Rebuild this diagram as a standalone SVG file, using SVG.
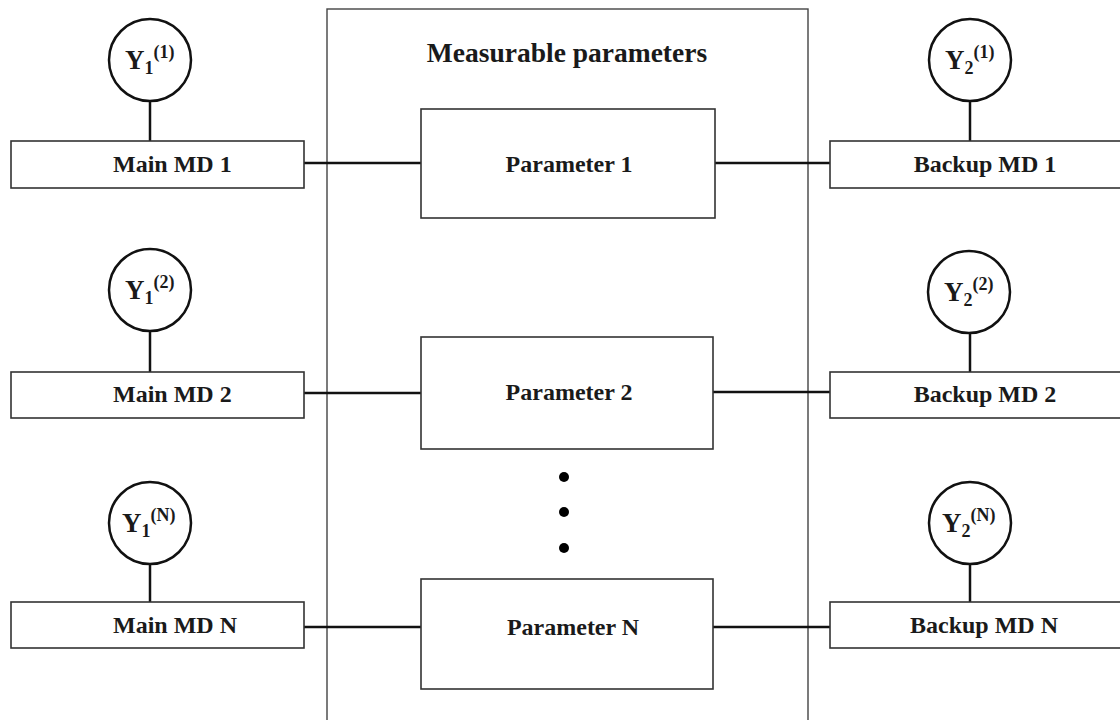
<svg xmlns="http://www.w3.org/2000/svg" width="1120" height="720" viewBox="0 0 1120 720">
<style>
  .box { fill: #fff; stroke: #333; stroke-width: 1.6; }
  .outer { fill: none; stroke: #444; stroke-width: 1.4; }
  .circ { fill: #fff; stroke: #111; stroke-width: 2.5; }
  .conn { stroke: #111; stroke-width: 2.5; fill: none; }
  .lbl { font-family: "Liberation Serif", "Times New Roman", serif; font-weight: bold; font-size: 24px; fill: #1a1a1a; }
  .mid { text-anchor: middle; }
  .title { font-size: 27.5px; }
  .y { font-size: 27px; }
  .sm { font-size: 18px; }
  .dot { fill: #000; }
</style>
<rect width="1120" height="720" fill="#fff"/>

<g id="measurable-parameters">
  <rect class="outer" x="327" y="9" width="481" height="730"/>
  <text class="lbl title mid" x="567" y="62">Measurable parameters</text>
</g>

<g id="connectors">
  <line class="conn" x1="150" y1="101" x2="150" y2="141"/>
  <line class="conn" x1="150" y1="331" x2="150" y2="372"/>
  <line class="conn" x1="150" y1="564" x2="150" y2="602"/>
  <line class="conn" x1="970" y1="101" x2="970" y2="141"/>
  <line class="conn" x1="970" y1="333" x2="970" y2="372"/>
  <line class="conn" x1="970" y1="564" x2="970" y2="602"/>
  <line class="conn" x1="304" y1="163" x2="421" y2="163"/>
  <line class="conn" x1="715" y1="163" x2="830" y2="163"/>
  <line class="conn" x1="304" y1="393" x2="421" y2="393"/>
  <line class="conn" x1="713" y1="392" x2="830" y2="392"/>
  <line class="conn" x1="304" y1="627" x2="421" y2="627"/>
  <line class="conn" x1="713" y1="627" x2="830" y2="627"/>
</g>

<g id="param-1">
  <rect class="box" x="421" y="109" width="294" height="109"/>
  <text class="lbl mid" x="569" y="172">Parameter 1</text>
</g>
<g id="param-2">
  <rect class="box" x="421" y="337" width="292" height="112"/>
  <text class="lbl mid" x="569" y="400">Parameter 2</text>
</g>
<g id="ellipsis">
  <circle class="dot" cx="564" cy="477" r="5"/>
  <circle class="dot" cx="564" cy="512" r="5"/>
  <circle class="dot" cx="564" cy="548" r="5"/>
</g>
<g id="param-n">
  <rect class="box" x="421" y="579" width="292" height="110"/>
  <text class="lbl mid" x="573" y="635">Parameter N</text>
</g>

<g id="main-md-1">
  <rect class="box" x="11" y="141" width="293" height="47"/>
  <text class="lbl" x="113" y="172">Main MD 1</text>
</g>
<g id="main-md-2">
  <rect class="box" x="11" y="372" width="293" height="46"/>
  <text class="lbl" x="113" y="402">Main MD 2</text>
</g>
<g id="main-md-n">
  <rect class="box" x="11" y="602" width="293" height="46"/>
  <text class="lbl" x="113" y="633">Main MD N</text>
</g>

<g id="backup-md-1">
  <rect class="box" x="830" y="141" width="300" height="47"/>
  <text class="lbl mid" x="985" y="172">Backup MD 1</text>
</g>
<g id="backup-md-2">
  <rect class="box" x="830" y="372" width="300" height="46"/>
  <text class="lbl mid" x="985" y="402">Backup MD 2</text>
</g>
<g id="backup-md-n">
  <rect class="box" x="830" y="602" width="300" height="46"/>
  <text class="lbl mid" x="984" y="633">Backup MD N</text>
</g>

<g id="y1-1">
  <circle class="circ" cx="150" cy="60" r="41"/>
  <text class="lbl y" x="125" y="69">Y<tspan class="sm" dy="5">1</tspan><tspan class="sm" dy="-16">(1)</tspan></text>
</g>
<g id="y1-2">
  <circle class="circ" cx="150" cy="290" r="41"/>
  <text class="lbl y" x="125" y="299">Y<tspan class="sm" dy="5">1</tspan><tspan class="sm" dy="-16">(2)</tspan></text>
</g>
<g id="y1-n">
  <circle class="circ" cx="150" cy="523" r="41"/>
  <text class="lbl y" x="122" y="532">Y<tspan class="sm" dy="5">1</tspan><tspan class="sm" dy="-16">(N)</tspan></text>
</g>
<g id="y2-1">
  <circle class="circ" cx="970" cy="60" r="41"/>
  <text class="lbl y" x="945" y="69">Y<tspan class="sm" dy="5">2</tspan><tspan class="sm" dy="-16">(1)</tspan></text>
</g>
<g id="y2-2">
  <circle class="circ" cx="969" cy="292" r="41"/>
  <text class="lbl y" x="944" y="301">Y<tspan class="sm" dy="5">2</tspan><tspan class="sm" dy="-16">(2)</tspan></text>
</g>
<g id="y2-n">
  <circle class="circ" cx="970" cy="523" r="41"/>
  <text class="lbl y" x="942" y="532">Y<tspan class="sm" dy="5">2</tspan><tspan class="sm" dy="-16">(N)</tspan></text>
</g>
</svg>
